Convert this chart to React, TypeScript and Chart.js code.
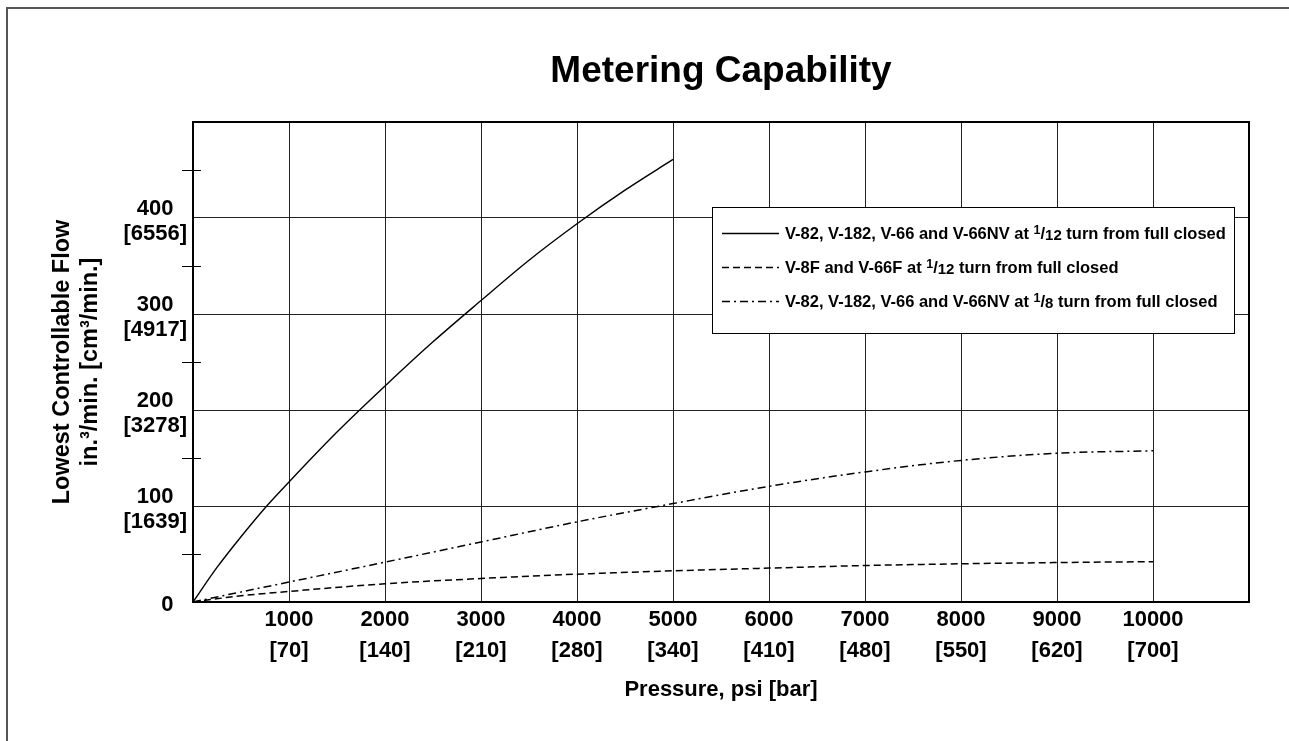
import React, { useEffect, useRef } from 'react';
import { Chart, registerables } from 'chart.js';

Chart.register(...registerables);

const FONT = '"Liberation Sans", Arial, Helvetica, sans-serif';

// ---- data ----
const chartTitle = 'Metering Capability';
const xAxisTitle = 'Pressure, psi [bar]';
const yAxisTitle = ['Lowest Controllable Flow', 'in.\u00b3/min. [cm\u00b3/min.]'];

const seriesLabels = [
  'V-82, V-182, V-66 and V-66NV at 1/12 turn from full closed',
  'V-8F and V-66F at 1/12 turn from full closed',
  'V-82, V-182, V-66 and V-66NV at 1/8 turn from full closed',
];

const solidPsi = [0, 250, 500, 750, 1000, 1500, 2000, 2500, 3000, 3500, 4000, 4500, 5000];
const solidFlow = [0, 36, 68, 98, 125, 177, 225, 271, 314, 356, 394, 429, 461];

const longPsi = [0, 500, 1000, 2000, 3000, 4000, 5000, 6000, 7000, 8000, 9000, 10000];
const dashedFlow = [0, 6.5, 11, 19, 24.5, 29, 32.5, 35.3, 38, 39.8, 41.1, 42];
const dashDotFlow = [0, 10.5, 20.8, 41.5, 62.5, 83.5, 102.5, 120.5, 135.5, 147.5, 155, 157.5];

const xTickPsi = [1000, 2000, 3000, 4000, 5000, 6000, 7000, 8000, 9000, 10000];
const xTickBar = ['70', '140', '210', '280', '340', '410', '480', '550', '620', '700'];

const yTickValues = [100, 200, 300, 400];
const yTickCm3 = ['1639', '3278', '4917', '6556'];
const yMinorTicks = [50, 150, 250, 350, 450];

const seriesDash: number[][] = [[], [7, 4], [8, 4, 2, 4]];
const seriesWidth = [1.4, 1.5, 1.5];

function toXY(xs: number[], ys: number[]) {
  return xs.map((x, i) => ({ x, y: ys[i] }));
}

function drawRichLabel(ctx: CanvasRenderingContext2D, text: string, x: number, cy: number) {
  const size = 16.5;
  const base = cy + size * 0.716 / 2;
  const m = text.match(/^(.*\s)(\d+)\/(\d+)(\s.*)$/);
  ctx.textBaseline = 'alphabetic';
  ctx.textAlign = 'left';
  ctx.fillStyle = '#000';
  const normal = `bold ${size}px ${FONT}`;
  if (!m) {
    ctx.font = normal;
    ctx.fillText(text, x, base);
    return;
  }
  const [, pre, num, den, post] = m;
  ctx.font = normal;
  ctx.fillText(pre, x, base);
  x += ctx.measureText(pre).width;
  ctx.font = `bold 12.5px ${FONT}`;
  ctx.fillText(num, x, base - 5);
  x += ctx.measureText(num).width;
  ctx.font = normal;
  ctx.fillText('/', x, base);
  x += ctx.measureText('/').width;
  ctx.font = `bold 15px ${FONT}`;
  ctx.fillText(den, x, base + 1.5);
  x += ctx.measureText(den).width;
  ctx.font = normal;
  ctx.fillText(post, x, base);
}

const decorPlugin = {
  id: 'decor',
  afterDraw(chart: any) {
    const { ctx, chartArea } = chart;
    const ys = chart.scales.y;
    ctx.save();
    // plot frame
    ctx.strokeStyle = '#000';
    ctx.lineWidth = 2;
    ctx.setLineDash([]);
    ctx.strokeRect(chartArea.left, chartArea.top, chartArea.right - chartArea.left, chartArea.bottom - chartArea.top);
    // minor ticks
    ctx.lineWidth = 1;
    yMinorTicks.forEach((v) => {
      const y = Math.round(ys.getPixelForValue(v)) + 0.5;
      ctx.beginPath();
      ctx.moveTo(chartArea.left - 11, y);
      ctx.lineTo(chartArea.left + 8, y);
      ctx.stroke();
    });
    // legend
    const bx = 704.5, by = 198.5, bw = 522, bh = 126;
    ctx.fillStyle = '#fff';
    ctx.fillRect(bx, by, bw, bh);
    ctx.strokeStyle = '#000';
    ctx.lineWidth = 1;
    ctx.strokeRect(bx, by, bw, bh);
    chart.data.datasets.forEach((ds: any, i: number) => {
      const cy = 224 + i * 34;
      ctx.save();
      ctx.strokeStyle = '#000';
      ctx.lineWidth = ds.borderWidth;
      ctx.setLineDash(ds.borderDash || []);
      ctx.beginPath();
      ctx.moveTo(714, cy + 0.5);
      ctx.lineTo(771, cy + 0.5);
      ctx.stroke();
      ctx.restore();
      drawRichLabel(ctx, ds.label, 777, cy);
    });
    ctx.restore();
  },
};

export default function App() {
  const ref = useRef<HTMLCanvasElement>(null);

  useEffect(() => {
    const datasets = [
      { label: seriesLabels[0], data: toXY(solidPsi, solidFlow) },
      { label: seriesLabels[1], data: toXY(longPsi, dashedFlow) },
      { label: seriesLabels[2], data: toXY(longPsi, dashDotFlow) },
    ].map((d, i) => ({
      ...d,
      borderColor: '#000',
      backgroundColor: '#000',
      borderWidth: seriesWidth[i],
      borderDash: seriesDash[i],
      pointRadius: 0,
      fill: false,
      cubicInterpolationMode: 'monotone' as const,
    }));

    const chart = new Chart(ref.current as HTMLCanvasElement, {
      type: 'line',
      data: { datasets },
      plugins: [decorPlugin],
      options: {
        animation: false,
        responsive: false,
        maintainAspectRatio: false,
        layout: { padding: { left: 0, right: 40, top: 0, bottom: 29 } },
        plugins: {
          legend: { display: false },
          tooltip: { enabled: false },
          title: {
            display: true,
            text: chartTitle,
            fullSize: false,
            color: '#000',
            font: { family: FONT, size: 37, weight: 'bold', lineHeight: 1.2 },
            padding: { top: 40.8, bottom: 27.8 },
          },
        },
        scales: {
          x: {
            type: 'linear',
            min: 0,
            max: 11000,
            afterFit: (s: any) => {
              s.height = 110;
              s.paddingLeft = 0;
              s.paddingRight = 0;
            },
            ticks: {
              stepSize: 1000,
              autoSkip: false,
              maxRotation: 0,
              padding: 3,
              color: '#000',
              font: { family: FONT, size: 22, weight: 'bold', lineHeight: 1.38 },
              callback: (value: any) => {
                const i = xTickPsi.indexOf(Number(value));
                return i < 0 ? '' : [String(xTickPsi[i]), `[${xTickBar[i]}]`];
              },
            },
            grid: { color: '#222', lineWidth: 1, drawTicks: false },
            border: { display: false },
            title: {
              display: true,
              text: xAxisTitle,
              color: '#000',
              font: { family: FONT, size: 22, weight: 'bold', lineHeight: 1.2 },
              padding: { top: 0, bottom: 8.8 },
            },
          },
          y: {
            type: 'linear',
            min: 0,
            max: 500,
            afterFit: (s: any) => {
              s.width = 185;
              s.paddingTop = 0;
              s.paddingBottom = 0;
            },
            ticks: {
              stepSize: 100,
              autoSkip: false,
              padding: 6,
              crossAlign: 'center',
              labelOffset: 3,
              color: '#000',
              font: { family: FONT, size: 22, weight: 'bold', lineHeight: 1.14 },
              callback: (value: any) => {
                const v = Number(value);
                if (v === 0) return '    0';
                const i = yTickValues.indexOf(v);
                return i < 0 ? '' : [String(v), `[${yTickCm3[i]}]`];
              },
            },
            grid: { color: '#222', lineWidth: 1, drawTicks: false },
            border: { display: false },
            title: {
              display: true,
              text: yAxisTitle,
              color: '#000',
              font: { family: FONT, size: 23.5, weight: 'bold', lineHeight: 1.2 },
              padding: { top: 40, bottom: 0 },
            },
          },
        },
      } as any,
    });
    return () => chart.destroy();
  }, []);

  return (
    <div style={{ position: 'fixed', left: 0, top: 0, width: 1289, height: 741, overflow: 'hidden', background: '#fff' }}>
      <div
        style={{
          position: 'absolute',
          left: 6,
          top: 7,
          width: 1400,
          height: 900,
          borderLeft: '2px solid #555',
          borderTop: '2px solid #555',
        }}
      />
      <canvas
        ref={ref}
        width={1281}
        height={732}
        style={{ position: 'absolute', left: 8, top: 9, width: 1281, height: 732 }}
      />
    </div>
  );
}
